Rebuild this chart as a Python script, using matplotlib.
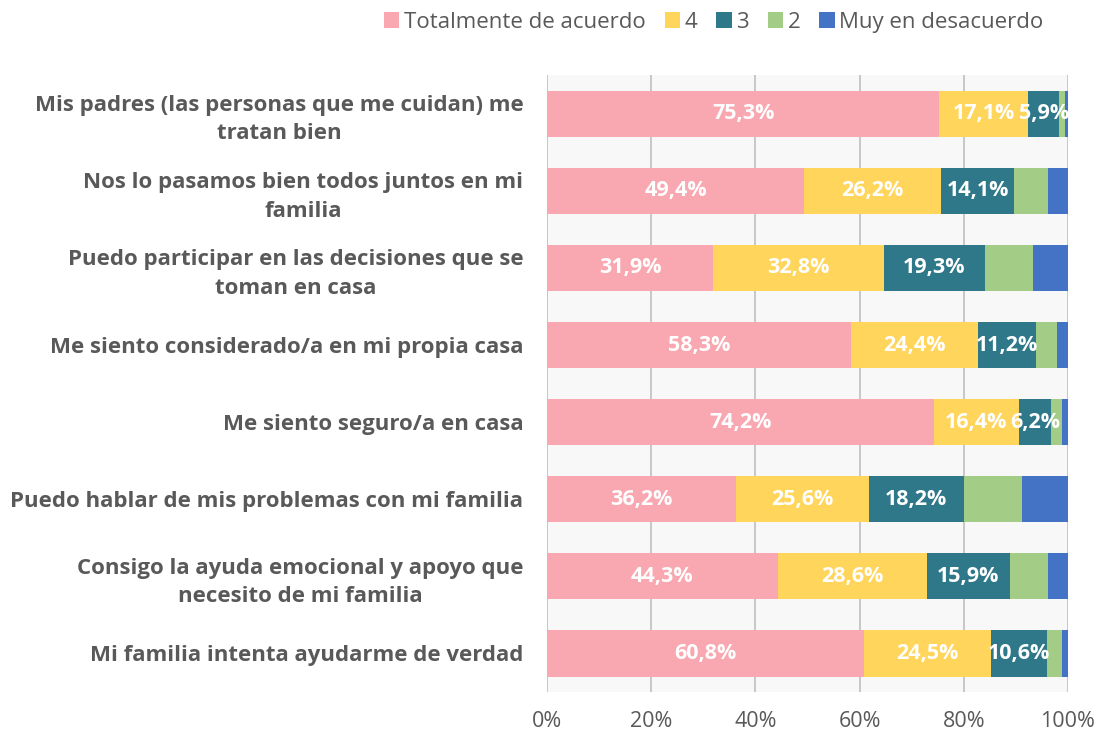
import matplotlib.pyplot as plt
import numpy as np

plt.rcParams['font.family'] = ['Open Sans', 'DejaVu Sans']

items = [
    "Mis padres (las personas que me cuidan) me\ntratan bien",
    "Nos lo pasamos bien todos juntos en mi\nfamilia",
    "Puedo participar en las decisiones que se\ntoman en casa",
    "Me siento considerado/a en mi propia casa",
    "Me siento seguro/a en casa",
    "Puedo hablar de mis problemas con mi familia",
    "Consigo la ayuda emocional y apoyo que\nnecesito de mi familia",
    "Mi familia intenta ayudarme de verdad",
]
series = ["Totalmente de acuerdo", "4", "3", "2", "Muy en desacuerdo"]
v5 = [75.3, 49.4, 31.9, 58.3, 74.2, 36.2, 44.3, 60.8]
v4 = [17.1, 26.2, 32.8, 24.4, 16.4, 25.6, 28.6, 24.5]
v3 = [5.9, 14.1, 19.3, 11.2, 6.2, 18.2, 15.9, 10.6]
v2 = [1.2, 6.5, 9.3, 4.0, 2.0, 11.1, 7.3, 2.9]
v1 = [0.5, 3.8, 6.7, 2.1, 1.2, 8.9, 3.9, 1.2]
colors = ['#F9A7B0', '#FFD55B', '#2E7889', '#A3CD86', '#4472C4']

fig = plt.figure(figsize=(11.06, 7.36), dpi=100)
ax = fig.add_axes([0.4946, 0.0598, 0.471, 0.838])
ax.set_facecolor('#f8f8f8')

y = np.arange(len(items))
left = np.zeros(len(items))
for k, (name, vals, col) in enumerate(zip(series, [v5, v4, v3, v2, v1], colors)):
    vals = np.array(vals)
    ax.barh(y, vals, left=left, height=0.6, color=col, label=name, zorder=3)
    if k < 3:
        for yi, l, v in zip(y, left, vals):
            ax.text(l + v / 2, yi, f"{v:.1f}%".replace('.', ','), ha='center', va='center',
                    color='white', fontsize=15.5, fontweight='bold', zorder=4)
    left += vals

ax.set_xlim(0, 100)
ax.set_ylim(len(items) - 0.5, -0.5)
ax.set_xticks(np.arange(0, 101, 20))
ax.set_xticklabels([f"{t}%" for t in range(0, 101, 20)])
ax.set_yticks(y)
ax.set_yticklabels(items, multialignment='center', linespacing=1.45)
ax.tick_params(axis='y', length=0, pad=17, labelsize=16, labelcolor='#595959')
for t in ax.get_yticklabels():
    t.set_fontweight('bold')
ax.tick_params(axis='x', length=0, pad=14, labelsize=15.5, labelcolor='#595959')
ax.grid(axis='x', color='#BFBFBF', linewidth=1.2, zorder=0)
for s in ax.spines.values():
    s.set_visible(False)

ax.legend(loc='upper center', bbox_to_anchor=(0.32, 1.135), ncol=5, frameon=False,
          fontsize=16, labelcolor='#595959', handlelength=0.7, handleheight=0.7,
          handletextpad=0.2, columnspacing=0.85)

fig.savefig('out.png', dpi=100, facecolor='white')
